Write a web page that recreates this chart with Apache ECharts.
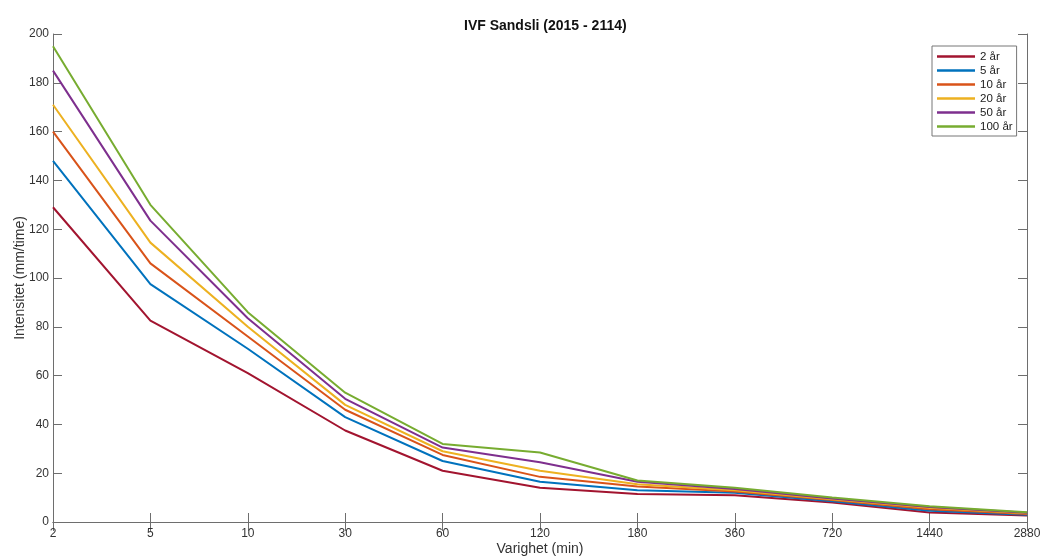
<!DOCTYPE html>
<html>
<head>
<meta charset="utf-8">
<script src="https://cdn.jsdelivr.net/npm/echarts@6/dist/echarts.min.js"></script>
<style>html,body{margin:0;padding:0;background:#fff;}#c{width:1040px;height:557px;}</style>
</head>
<body>
<div id="c"></div>
<script>
const categories = ['2','5','10','30','60','120','180','360','720','1440','2880'];
const seriesNames = ['2 år','5 år','10 år','20 år','50 år','100 år'];
const s2   = [129, 82.5, 61, 37.5, 21, 14, 11.5, 11, 8, 3.9, 2.7];
const s5   = [148, 97.5, 71, 43, 25, 16.5, 13, 12, 8.5, 4.6, 3.0];
const s10  = [160, 106, 76, 46, 27.5, 18.5, 14.5, 12.5, 9, 5.2, 3.3];
const s20  = [171, 114.5, 80, 48, 29, 21, 15.5, 13, 9.3, 5.8, 3.6];
const s50  = [185, 123.5, 83.5, 50.5, 30.5, 24.5, 16.5, 13.5, 9.6, 6.1, 3.8];
const s100 = [195, 130, 86, 53, 32, 28.5, 17, 14, 10, 6.5, 4.0];
const yTicks = [0,20,40,60,80,100,120,140,160,180,200];
const colors = ['#A2142F','#0072BD','#D95319','#EDB120','#7E2F8E','#77AC30'];
const allData = [s2,s5,s10,s20,s50,s100];

const font = 'Liberation Sans, Arial, sans-serif';
const axisColor = '#6e6e6e';
const chart = echarts.init(document.getElementById('c'), null, {renderer:'canvas'});
const option = {
  animation: false,
  backgroundColor: '#fff',
  title: {
    text: 'IVF Sandsli (2015 - 2114)',
    left: 459, top: 14,
    textStyle: {fontFamily: font, fontSize: 14, fontWeight: 'bold', color: '#111'}
  },
  legend: {
    orient: 'vertical',
    left: 932, top: 46,
    padding: [4, 4, 3, 5],
    borderColor: '#777', borderWidth: 1,
    backgroundColor: '#fff',
    itemWidth: 38, itemHeight: 2.5, itemGap: 1,
    icon: 'rect',
    textStyle: {fontFamily: font, fontSize: 11.5, color: '#222', lineHeight: 13},
    data: seriesNames
  },
  grid: {left: 53, right: 13, top: 34, bottom: 35, containLabel: false, outerBoundsMode: 'none'},
  xAxis: [{
    type: 'category', data: categories, boundaryGap: false,
    name: 'Varighet (min)', nameLocation: 'middle', nameGap: 20, nameMoveOverlap: false,
    nameTextStyle: {fontFamily: font, fontSize: 14, color: '#333'},
    axisLine: {show: true, lineStyle: {color: axisColor, width: 1}},
    axisTick: {show: true, inside: true, length: 9, lineStyle: {color: axisColor}},
    axisLabel: {fontFamily: font, fontSize: 12, color: '#333', margin: 6},
    splitLine: {show: false}
  }, {
    type: 'category', data: categories, boundaryGap: false, position: 'top',
    axisLine: {show: true, lineStyle: {color: axisColor, width: 1}},
    axisTick: {show: true, inside: true, length: 9, lineStyle: {color: axisColor}},
    axisLabel: {show: false}, splitLine: {show: false}
  }],
  yAxis: [{
    type: 'value', min: yTicks[0], max: yTicks[yTicks.length-1], interval: 20,
    name: 'Intensitet (mm/time)', nameLocation: 'middle', nameGap: 26, nameMoveOverlap: false,
    nameTextStyle: {fontFamily: font, fontSize: 14, color: '#333'},
    axisLine: {show: true, lineStyle: {color: axisColor, width: 1}},
    axisTick: {show: true, inside: true, length: 9, lineStyle: {color: axisColor}},
    axisLabel: {fontFamily: font, fontSize: 12, color: '#333', margin: 4},
    splitLine: {show: false}
  }, {
    type: 'value', min: yTicks[0], max: yTicks[yTicks.length-1], interval: 20, position: 'right',
    axisLine: {show: true, lineStyle: {color: axisColor, width: 1}},
    axisTick: {show: true, inside: true, length: 9, lineStyle: {color: axisColor}},
    axisLabel: {show: false}, splitLine: {show: false}
  }],
  series: seriesNames.map((n, i) => ({
    name: n, type: 'line', data: allData[i],
    xAxisIndex: 0, yAxisIndex: 0,
    showSymbol: false, symbol: 'none',
    color: colors[i],
    lineStyle: {width: 2, color: colors[i]}
  }))
};
chart.setOption(option);
</script>
</body>
</html>
